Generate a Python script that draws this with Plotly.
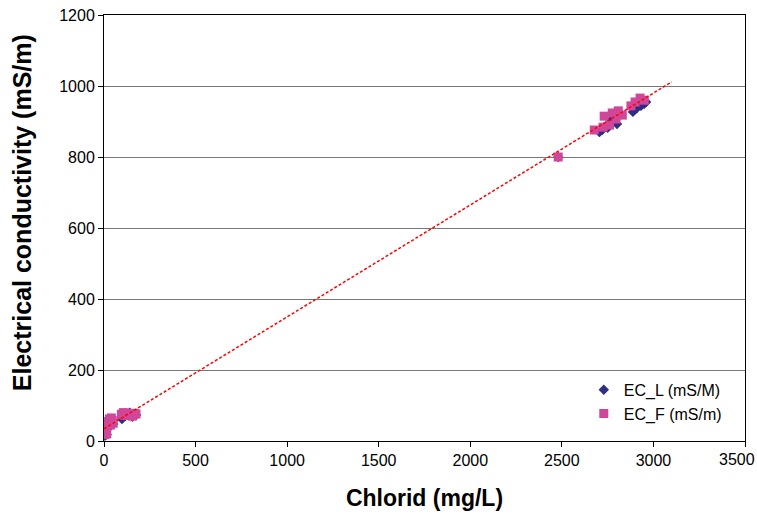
import numpy as np
import plotly.graph_objects as go

# Chloride concentration (mg/L) and electrical conductivity (mS/m)
chlorid_L = [5, 8, 10, 12, 15, 20, 25, 30, 35, 40, 45, 50,
             98, 105, 115, 125, 140, 155, 165, 175,
             2480, 2705, 2720, 2750, 2770, 2790, 2801, 2825, 2888, 2910, 2932, 2950, 2960]
ec_L = [15, 22, 30, 38, 18, 45, 52, 58, 42, 60, 55, 48,
        62, 76, 70, 75, 80, 68, 74, 73,
        800, 870, 876, 882, 904, 912, 893, 920, 927, 938, 944, 950, 955]

chlorid_F = [5, 8, 10, 12, 15, 20, 25, 30, 35, 40, 45, 50,
             95, 105, 115, 125, 140, 155, 165, 175,
             2480, 2677, 2725, 2731, 2760, 2775, 2796, 2808, 2830, 2877, 2900, 2927, 2950]
ec_F = [18, 25, 32, 40, 20, 48, 55, 62, 45, 65, 58, 50,
        75, 80, 72, 78, 74, 70, 78, 76,
        800, 876, 884, 915, 890, 924, 907, 930, 918, 944, 955, 966, 960]

trend_x_end = 3100
x_ticks = [0, 500, 1000, 1500, 2000, 2500, 3000, 3500]
x_tick_labels = ["0", "500", "1000", "1500", "2000", "2500", "3000", "3500"]
y_ticks = [0, 200, 400, 600, 800, 1000, 1200]

FONT = "Arial, Liberation Sans, sans-serif"
PINK = "#D0479A"
NAVY = "#2E2E86"

# linear trend through the field measurements
slope, intercept = np.polyfit(chlorid_F, ec_F, 1)
tx = np.array([0, trend_x_end])
ty = slope * tx + intercept

fig = go.Figure()
fig.add_trace(go.Scatter(
    x=chlorid_L, y=ec_L, mode="markers", name="EC_L (mS/M)",
    marker=dict(symbol="diamond", size=8, color=NAVY, line=dict(width=0)),
))
fig.add_trace(go.Scatter(
    x=chlorid_F, y=ec_F, mode="markers", name="EC_F (mS/m)",
    marker=dict(symbol="square", size=9, color=PINK, line=dict(width=0)),
))
fig.add_trace(go.Scatter(
    x=tx, y=ty, mode="lines", showlegend=False, hoverinfo="skip",
    line=dict(color="#FF0000", width=1.5, dash="3px,2px"),
))

fig.update_layout(
    width=757, height=517,
    margin=dict(l=104, r=12, t=15, b=76, autoexpand=False),
    paper_bgcolor="white", plot_bgcolor="white",
    font=dict(family=FONT, color="black", size=16),
    legend=dict(
        x=0.7485, y=0.16, xanchor="left", yanchor="top",
        bgcolor="rgba(0,0,0,0)", font=dict(size=16, family=FONT),
        itemwidth=30,
    ),
    annotations=[
        dict(
            text="<b>Electrical conductivity (mS/m)</b>",
            xref="paper", yref="paper", x=-0.128, y=0.537,
            xanchor="center", yanchor="middle",
            textangle=-90, showarrow=False,
            font=dict(size=25, family=FONT, color="black"),
        ),
        # last x tick label, right-aligned so it stays inside the page
        dict(
            text=x_tick_labels[-1],
            xref="x", yref="paper", x=x_ticks[-1], y=-0.0446,
            xanchor="right", yanchor="middle", xshift=12,
            showarrow=False, font=dict(size=16, family=FONT, color="black"),
        ),
    ],
)
fig.update_xaxes(
    range=[0, 3500], tickvals=x_ticks, ticktext=x_tick_labels[:-1] + [""],
    ticks="outside", ticklen=5,
    tickcolor="black", showline=True, linecolor="black", linewidth=1,
    mirror=True, showgrid=False, zeroline=False, automargin=False,
    tickfont=dict(size=16, family=FONT),
    title=dict(text="<b>Chlorid (mg/L)</b>", font=dict(size=23, family=FONT), standoff=21),
)
fig.update_yaxes(
    range=[0, 1200], tickvals=y_ticks, ticks="outside", ticklen=5,
    tickcolor="black", showline=True, linecolor="black", linewidth=1,
    mirror=True, showgrid=True, gridcolor="#777777", gridwidth=1,
    zeroline=False, automargin=False, tickfont=dict(size=16, family=FONT),
)

fig.write_html("out.html")
